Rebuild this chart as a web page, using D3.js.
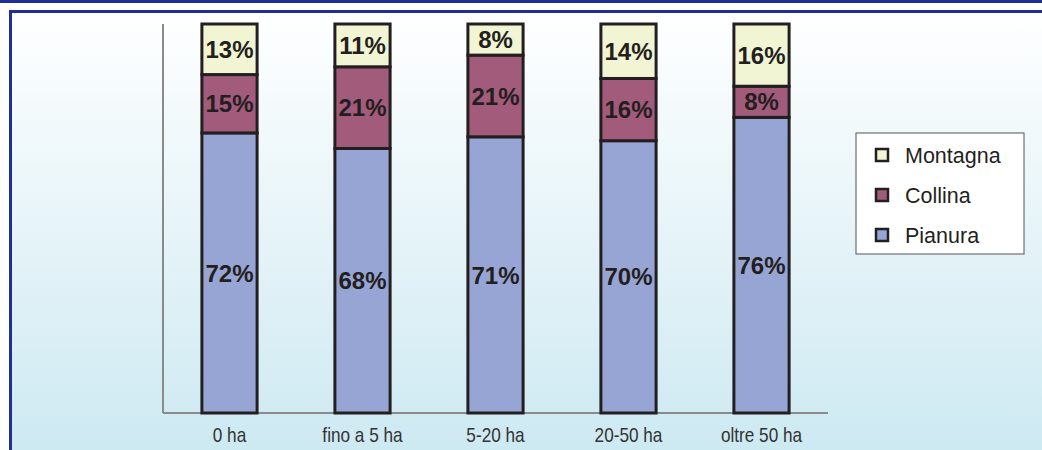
<!DOCTYPE html>
<html>
<head>
<meta charset="utf-8">
<script src="https://cdn.jsdelivr.net/npm/d3@7/dist/d3.min.js"></script>
<style>
  html, body { margin: 0; padding: 0; background: #fff; }
  svg { display: block; }
  .lbl { font-family: Arial, "Liberation Sans", Helvetica, sans-serif; }
  .cat { font-family: "Liberation Sans Narrow", "Arial Narrow", Arial, "Liberation Sans", sans-serif; }
</style>
</head>
<body>
<svg id="chart" width="1042" height="450"></svg>
<script>
// Farm size classes and the share of each altitude zone (%)
const categories = ["0 ha", "fino a 5 ha", "5-20 ha", "20-50 ha", "oltre 50 ha"];
const pianura  = [72, 68, 71, 70, 76];
const collina  = [15, 21, 21, 16, 8];
const montagna = [13, 11, 8, 14, 16];
const seriesNames = ["Pianura", "Collina", "Montagna"];
const legendOrder = ["Montagna", "Collina", "Pianura"];

const colors = { Pianura: "#97a5d4", Collina: "#a35b7c", Montagna: "#f2f5d4" };

const svg = d3.select("#chart");
const W = 1042, H = 450;

// Background panel with vertical gradient
const defs = svg.append("defs");
const grad = defs.append("linearGradient").attr("id", "bg").attr("x1", 0).attr("y1", 0).attr("x2", 0).attr("y2", 1);
grad.append("stop").attr("offset", "0%").attr("stop-color", "#ffffff");
grad.append("stop").attr("offset", "100%").attr("stop-color", "#cde9f2");

svg.append("rect").attr("x", 0).attr("y", 0).attr("width", W).attr("height", H).attr("fill", "#fff");
svg.append("rect").attr("x", 10).attr("y", 11).attr("width", W - 10).attr("height", H - 11).attr("fill", "url(#bg)");

// Frame lines
svg.append("rect").attr("x", 0).attr("y", 0).attr("width", W).attr("height", 3).attr("fill", "#1f2f93");
svg.append("rect").attr("x", 9).attr("y", 10).attr("width", W - 9).attr("height", 3).attr("fill", "#1f2f93");
svg.append("rect").attr("x", 9).attr("y", 10).attr("width", 3).attr("height", H - 10).attr("fill", "#1f2f93");

// Scales
const plot = { left: 163, right: 828, top: 24, bottom: 413 };
const x = d3.scaleBand().domain(categories).range([plot.left, plot.right]).paddingInner(0.585).paddingOuter(0.2925);
const y = d3.scaleLinear().domain([0, 100]).range([plot.bottom, plot.top]);

// Stacked data
const rows = categories.map((c, i) => ({ cat: c, Pianura: pianura[i], Collina: collina[i], Montagna: montagna[i] }));
const stacked = d3.stack().keys(seriesNames)(rows);

// Axes lines
svg.append("line").attr("x1", plot.left).attr("x2", plot.left).attr("y1", plot.top).attr("y2", plot.bottom)
  .attr("stroke", "#8a8a8a").attr("stroke-width", 2);
svg.append("line").attr("x1", plot.left).attr("x2", plot.right).attr("y1", plot.bottom).attr("y2", plot.bottom)
  .attr("stroke", "#8a8a8a").attr("stroke-width", 2);

// Bars
const layer = svg.append("g").selectAll("g").data(stacked).join("g")
  .attr("fill", d => colors[d.key]);

layer.selectAll("rect").data(d => d).join("rect")
  .attr("x", d => x(d.data.cat))
  .attr("width", x.bandwidth())
  .attr("y", d => y(d[1]))
  .attr("height", d => y(d[0]) - y(d[1]))
  .attr("stroke", "#231f20")
  .attr("stroke-width", 3);

// Value labels
const labels = svg.append("g");
stacked.forEach(s => {
  s.forEach(d => {
    const v = d[1] - d[0];
    labels.append("text")
      .attr("class", "lbl")
      .attr("x", x(d.data.cat) + x.bandwidth() / 2)
      .attr("y", (y(d[0]) + y(d[1])) / 2)
      .attr("dy", "0.36em")
      .attr("text-anchor", "middle")
      .attr("font-weight", "bold")
      .attr("font-size", 24)
      .attr("fill", "#231f20")
      .text(v + "%");
  });
});

// Category axis labels (condensed look via horizontal scaling)
const xAxis = d3.axisBottom(x).tickSize(0).tickPadding(15);
const gx = svg.append("g").attr("transform", `translate(0,${plot.bottom})`).call(xAxis);
gx.select(".domain").remove();
gx.selectAll("text")
  .attr("class", "cat")
  .attr("font-size", 20)
  .attr("fill", "#333")
  .attr("transform", "scale(0.86,1)");

// Legend
const lg = svg.append("g").attr("transform", "translate(856,133)");
lg.append("rect").attr("width", 168).attr("height", 121).attr("fill", "#fff").attr("stroke", "#555").attr("stroke-width", 1);
legendOrder.forEach((k, i) => {
  const cy = 22 + i * 40;
  lg.append("rect").attr("x", 20).attr("y", cy - 6).attr("width", 12).attr("height", 12)
    .attr("fill", colors[k]).attr("stroke", "#231f20").attr("stroke-width", 2.5);
  lg.append("text").attr("class", "lbl").attr("x", 49).attr("y", cy).attr("dy", "0.36em")
    .attr("font-size", 21.5).attr("fill", "#231f20").text(k);
});
</script>
</body>
</html>
